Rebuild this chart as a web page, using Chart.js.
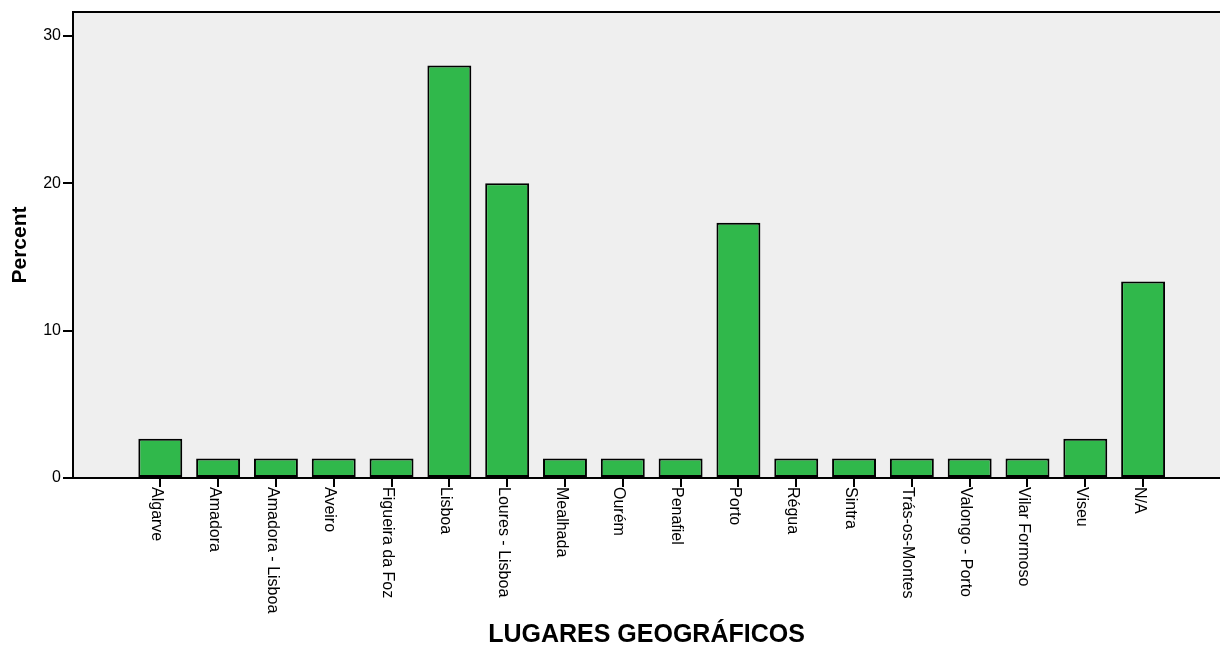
<!DOCTYPE html>
<html>
<head>
<meta charset="utf-8">
<script src="https://cdn.jsdelivr.net/npm/chart.js@4/dist/chart.umd.min.js"></script>
<style>
  html, body { margin: 0; padding: 0; background: #fff; }
  #wrap { width: 1220px; height: 650px; }
</style>
</head>
<body>
<div id="wrap"><canvas id="grafico" width="1220" height="650"></canvas></div>
<script>
// datos (n = 75)
const lugares = [
  'Algarve', 'Amadora', 'Amadora - Lisboa', 'Aveiro', 'Figueira da Foz',
  'Lisboa', 'Loures - Lisboa', 'Mealhada', 'Ourém', 'Penafiel', 'Porto',
  'Régua', 'Sintra', 'Trás-os-Montes', 'Valongo - Porto', 'Vilar Formoso',
  'Viseu', 'N/A'
];
const porcentajes = [
  2.67, 1.33, 1.33, 1.33, 1.33,
  28, 20, 1.33, 1.33, 1.33, 17.33,
  1.33, 1.33, 1.33, 1.33, 1.33,
  2.67, 13.33
];
const yTicks = [0, 10, 20, 30];

const fuente = "'Liberation Sans', Arial, sans-serif";

// fondo gris del área y borde superior
const fondo = {
  id: 'fondo',
  beforeDraw(chart) {
    const { ctx, chartArea: a } = chart;
    ctx.save();
    ctx.fillStyle = '#efefef';
    ctx.fillRect(a.left, a.top, a.right - a.left, a.bottom - a.top);
    ctx.strokeStyle = '#000';
    ctx.lineWidth = 2;
    ctx.beginPath();
    ctx.moveTo(a.left, a.top);
    ctx.lineTo(a.right, a.top);
    ctx.stroke();
    ctx.restore();
  }
};

// etiquetas del eje x giradas 90° en sentido horario
const etiquetas = {
  id: 'etiquetas',
  afterDraw(chart) {
    const { ctx, chartArea: a } = chart;
    const x = chart.scales.x;
    ctx.save();
    ctx.fillStyle = '#000';
    ctx.font = '16px ' + fuente;
    ctx.textAlign = 'left';
    ctx.textBaseline = 'middle';
    lugares.forEach((l, i) => {
      const px = x.getPixelForValue(i);
      ctx.save();
      ctx.translate(px - 4, a.bottom + 9);
      ctx.rotate(Math.PI / 2);
      ctx.fillText(l, 0, 0);
      ctx.restore();
    });
    ctx.restore();
  }
};

const ctx = document.getElementById('grafico').getContext('2d');

new Chart(ctx, {
  type: 'bar',
  data: {
    datasets: [{
      data: porcentajes.map((v, i) => ({ x: i, y: v })),
      backgroundColor: '#30b84b',
      borderColor: '#000',
      borderWidth: 2,
      borderSkipped: false,
      barPercentage: 0.76,
      categoryPercentage: 1
    }]
  },
  options: {
    responsive: false,
    animation: false,
    layout: { padding: { top: 12, right: 0, bottom: 0, left: 0 } },
    plugins: {
      legend: { display: false },
      tooltip: { enabled: false }
    },
    scales: {
      x: {
        type: 'linear',
        offset: false,
        min: -1.51,
        max: 18.33,
        afterBuildTicks: axis => { axis.ticks = lugares.map((l, i) => ({ value: i })); },
        afterFit: axis => { axis.height = 172; },
        ticks: { display: false },
        grid: {
          offset: false,
          drawOnChartArea: false,
          drawTicks: true,
          tickLength: 9,
          color: '#000',
          lineWidth: 2
        },
        border: { display: true, color: '#000', width: 2 },
        title: {
          display: true,
          text: 'LUGARES GEOGRÁFICOS',
          color: '#000',
          font: { family: fuente, size: 25, weight: 'bold' },
          padding: 0
        }
      },
      y: {
        min: 0,
        max: 31.63,
        afterBuildTicks: axis => { axis.ticks = yTicks.map(v => ({ value: v })); },
        afterFit: axis => { axis.width = 73; },
        ticks: {
          color: '#000',
          font: { family: fuente, size: 16 },
          padding: 2
        },
        grid: {
          drawOnChartArea: false,
          drawTicks: true,
          tickLength: 10,
          color: '#000',
          lineWidth: 2
        },
        border: { display: true, color: '#000', width: 2 },
        title: {
          display: true,
          text: 'Percent',
          color: '#000',
          font: { family: fuente, size: 21, weight: 'bold' },
          padding: { top: 8, bottom: 0 }
        }
      }
    }
  },
  plugins: [fondo, etiquetas]
});
</script>
</body>
</html>
